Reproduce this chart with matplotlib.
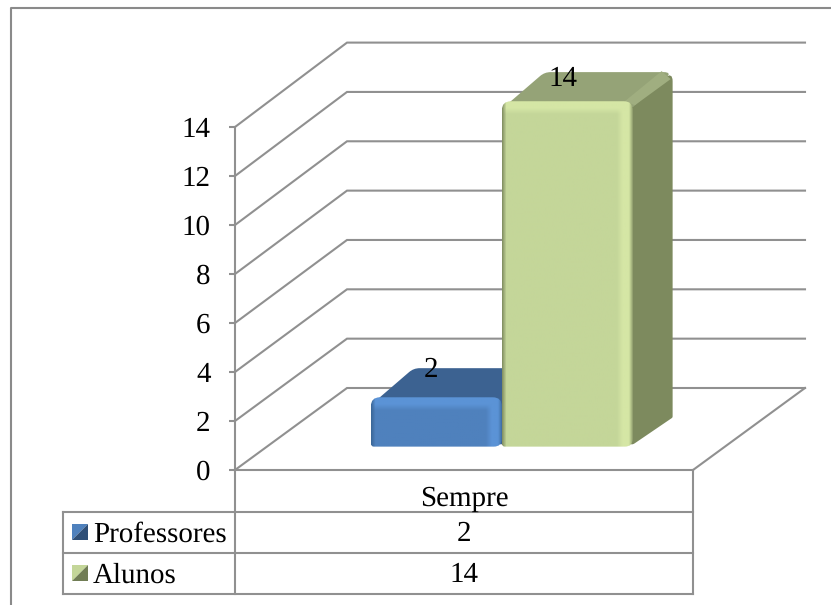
import numpy as np
import matplotlib
matplotlib.use("Agg")
import matplotlib.pyplot as plt
from matplotlib.colors import to_rgb
from matplotlib.patches import PathPatch, Polygon
from matplotlib.path import Path
from matplotlib.transforms import IdentityTransform

categories = ["Sempre"]
series_names = ["Professores", "Alunos"]
professores = [2]
alunos = [14]
y_ticks = [0, 2, 4, 6, 8, 10, 12, 14]

plt.rcParams["font.family"] = ["Liberation Serif", "DejaVu Serif"]
plt.rcParams["text.hinting"] = "none"
plt.rcParams["text.hinting_factor"] = 1
LINE = "#909090"
LW = 1.5
FS = 21
W, H = 831, 605

fig = plt.figure(figsize=(W / 100, H / 100), dpi=100, facecolor="white")
ax = fig.add_axes([235 / W, 1 - 470 / H, 458 / W, 343 / H])
ax.set_xlim(-0.5, 0.5)
ax.set_ylim(0, 14)
ax.set_autoscale_on(False)
ax.patch.set_alpha(0)
ax.set_xticks([])
ax.set_yticks(y_ticks)
ax.tick_params(axis="y", length=4.5, width=LW, color=LINE, pad=13, labelsize=FS)
for name in ["top", "right"]:
    ax.spines[name].set_visible(False)
for name in ["left", "bottom"]:
    ax.spines[name].set_color(LINE)
    ax.spines[name].set_linewidth(LW)

ID = IdentityTransform()
DEPTH_X, DEPTH_Y = 112, 82
fig.canvas.draw()


def project(x, value, depth=0.0):
    # oblique projection: category/value position pushed back by depth, in pixels
    px, py = ax.transData.transform((x, 0))
    scale = 1.007 if depth > 0 else 1.0
    _, top = ax.transData.transform((x, value))
    return px + DEPTH_X * depth, py + (top - py) * scale + DEPTH_Y * depth


def rounded(points, radii):
    # closed path through points, each corner rounded by its own radius
    pts = [np.array(p, float) for p in points]
    verts, codes = [], []
    n = len(pts)
    for i, p in enumerate(pts):
        prev, nxt = pts[i - 1], pts[(i + 1) % n]
        r = radii[i]
        a = p + (prev - p) / np.linalg.norm(prev - p) * r
        b = p + (nxt - p) / np.linalg.norm(nxt - p) * r
        verts += [a, p, b]
        codes += [Path.LINETO if i else Path.MOVETO, Path.CURVE3, Path.CURVE3]
    verts.append(verts[0])
    codes.append(Path.CLOSEPOLY)
    return Path(verts, codes)


def mix(c1, c2, t):
    return np.asarray(c1) * (1 - t[..., None]) + np.asarray(c2) * t[..., None]


def shaded_front(x0, y0, x1, y1, base, light, dark, zorder):
    # bevelled front face as a small shading image clipped to a rounded box
    w, h = int(x1 - x0), int(y1 - y0)
    xs = np.arange(w)[None, :] + 0.5
    ys = np.arange(h)[:, None] + 0.5  # from the top edge
    img = np.broadcast_to(np.asarray(to_rgb(base)), (h, w, 3)).copy()
    band = np.clip((xs - (w - 16)) / 6, 0, 1) * np.ones((h, w))
    img = mix(img, to_rgb(light), band)
    top = np.clip(1 - (ys - 7) / 6, 0, 1) * np.ones((h, w))
    img = mix(img, to_rgb(light), top)
    left = np.clip(1 - xs / 4.5, 0, 1) * np.ones((h, w))
    img = mix(img, to_rgb(dark), left)
    right = np.clip(1 - (w - xs) / 4, 0, 1) * np.ones((h, w))
    img = mix(img, to_rgb(dark), right * 0.8)
    im = ax.imshow(img, extent=(x0, x1, y0, y1), aspect="auto", origin="upper",
                   transform=ID, zorder=zorder, interpolation="bilinear")
    clip = PathPatch(rounded([(x0, y0), (x1, y0), (x1, y1), (x0, y1)], [3, 8, 9, 9]),
                     transform=ID, facecolor="none", edgecolor="none")
    ax.add_patch(clip)
    clip.set_clip_on(False)
    im.set_clip_box(fig.bbox)
    im.set_clip_path(clip)


def bar3d(left, width, value, base, light, dark, top_col, side_col, corner_col, zorder):
    front_d, back_d = 0.285, 0.64
    x0, y0 = project(left, 0, front_d)
    x1, y1 = project(left + width, value, front_d)
    bx0, by0 = project(left, 0, back_d)
    bx1, by1 = project(left + width, value, back_d)
    # side and top faces first, the front goes over them
    side = [(x1 - 3, y0), (bx1, by0), (bx1, by1), (x1 - 3, y1)]
    ax.add_patch(PathPatch(rounded(side, [6, 1, 9, 1]), transform=ID, facecolor=side_col,
                           edgecolor="none", zorder=zorder, clip_on=False))
    top = [(x0 + 2, y1 - 6), (bx0 + 3, by1), (bx1, by1), (x1, y1 - 6)]
    ax.add_patch(PathPatch(rounded(top, [1, 6, 9, 1]), transform=ID, facecolor=top_col,
                           edgecolor="none", zorder=zorder + 0.1, clip_on=False))
    # lighter bevel running along the top right edge
    ax.add_patch(Polygon([(x1 - 8, y1), (bx1 - 11, by1 + 1), (bx1 - 2, by1 - 7), (x1 + 2, y1 - 4)],
                         transform=ID, facecolor=corner_col, edgecolor="none",
                         zorder=zorder + 0.15, clip_on=False))
    shaded_front(x0, y0, x1, y1, base, light, dark, zorder + 0.2)
    return (x0 + x1) / 2, y1


# back wall and side wall gridlines
for v in y_ticks:
    x_a, y_a = project(-0.5, v)
    x_b, y_b = project(-0.5, v, 1)
    x_c, y_c = project(0.5, v, 1)
    ax.plot([x_a, x_b, x_c], [y_a, y_b, y_c], color=LINE, lw=LW, transform=ID,
            clip_on=False, zorder=1, solid_joinstyle="miter")
x_a, y_a = project(0.5, 0)
x_b, y_b = project(0.5, 0, 1)
ax.plot([x_a, x_b], [y_a, y_b], color=LINE, lw=LW, transform=ID, clip_on=False, zorder=1)

bar_width = 0.286
blue_left = -0.273
green_left = blue_left + bar_width
cx1, cy1 = bar3d(blue_left, bar_width, professores[0], "#4f81bd", "#5b93d6", "#3a6595",
                 "#3c6291", "#3c6291", "#3c6291", 3)
cx2, cy2 = bar3d(green_left, bar_width, alunos[0], "#c4d699", "#d5e6a5", "#7d8a5e",
                 "#95a377", "#7d8a5e", "#a0ae80", 4)

for cx, cy, value, dx, dy in [(cx1, cy1, professores[0], -5, 27), (cx2, cy2, alunos[0], -4, 22)]:
    ax.text(cx + dx, cy + dy, str(value), transform=ID, ha="center", va="center",
            fontsize=FS, color="black", zorder=6, clip_on=False)

# chart frame and data table live on a plain pixel-space overlay
ov = fig.add_axes([0, 0, 1, 1], facecolor="none")
ov.set_xlim(0, W)
ov.set_ylim(H, 0)
ov.axis("off")
ov.plot([11, 11, W], [H, 7.5, 7.5], color="#8a8a8a", lw=LW)

row_y = [470, 512, 553, 594]
ov.plot([235, 235], [470, 594], color=LINE, lw=LW)
ov.plot([693, 693], [470, 594], color=LINE, lw=LW)
ov.plot([63, 63], [512, 594], color=LINE, lw=LW)
for y in row_y[1:]:
    ov.plot([63, 693], [y, y], color=LINE, lw=LW)

ov.text(464, 499, categories[0], fontsize=FS, ha="center", va="center")
rows = [(series_names[0], professores[0], "#4f81bd", "#2f4f77"),
        (series_names[1], alunos[0], "#c4d699", "#717d55")]
for i, (name, value, c_hi, c_lo) in enumerate(rows):
    mid = (row_y[i + 1] + row_y[i + 2]) / 2
    sx, sy, s = 72, mid - 8.5, 16
    ov.add_patch(Polygon([(sx, sy), (sx + s, sy), (sx, sy + s)], facecolor=c_hi, edgecolor="none"))
    ov.add_patch(Polygon([(sx + s, sy), (sx + s, sy + s), (sx, sy + s)], facecolor=c_lo, edgecolor="none"))
    ov.text(93, mid + 2, name, fontsize=FS, ha="left", va="center")
    ov.text(464, mid + 2, str(value), fontsize=FS, ha="center", va="center")

fig.savefig("out.png", dpi=100)
